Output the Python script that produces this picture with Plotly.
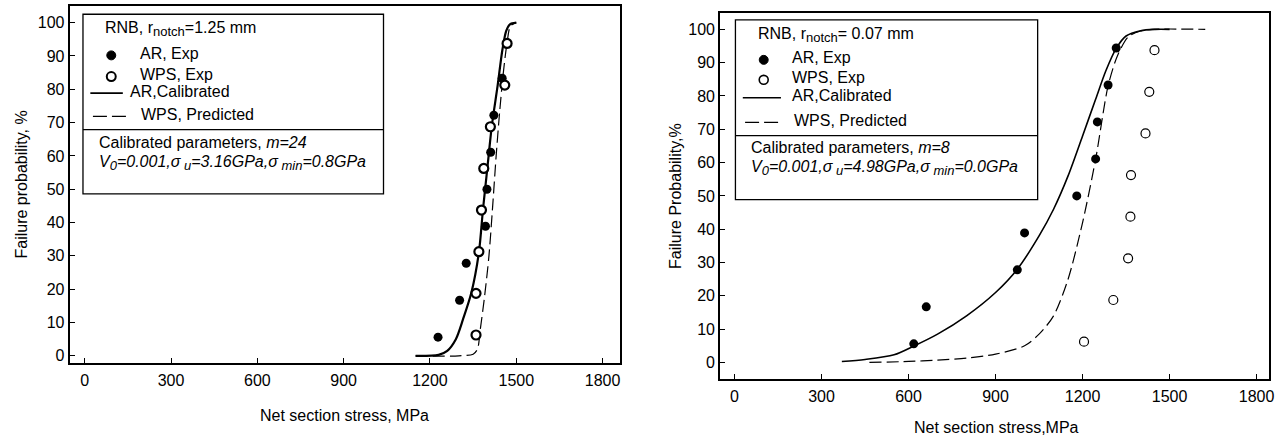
import plotly.graph_objects as go

W, H = 1286, 438
FONT = "Liberation Sans, Arial, sans-serif"

# ---------------- Left panel: RNB, r_notch = 1.25 mm ----------------
left_ar_x = [1228, 1303, 1326, 1393, 1398, 1411, 1422, 1451]
left_ar_y = [5.6, 16.7, 27.8, 38.9, 50.0, 61.1, 72.2, 83.3]
left_wps_x = [1360, 1360, 1370, 1379, 1387, 1410, 1460, 1468]
left_wps_y = [6.25, 18.75, 31.25, 43.75, 56.25, 68.75, 81.25, 93.75]
left_cal_x = [1150, 1230, 1260, 1290, 1315, 1344, 1370, 1384, 1399, 1415, 1435, 1452, 1465, 1478, 1500]
left_cal_y = [0, 0.3, 1.5, 5, 11, 19, 31, 43.7, 56, 69, 81, 92, 97.5, 99.5, 100]
left_pred_x = [1150, 1300, 1350, 1365, 1375, 1390, 1405, 1418, 1430, 1442, 1455, 1468, 1480, 1500]
left_pred_y = [0, 0, 0.5, 2, 8, 18, 30, 45, 60, 73, 85, 94, 99, 100]

# ---------------- Right panel: RNB, r_notch = 0.07 mm ----------------
right_ar_x = [618, 661, 975, 1000, 1180, 1245, 1251, 1288, 1316]
right_ar_y = [5.6, 16.7, 27.8, 38.9, 50.0, 61.1, 72.2, 83.3, 94.4]
right_wps_x = [1205, 1306, 1357, 1365, 1367, 1417, 1430, 1448]
right_wps_y = [6.25, 18.75, 31.25, 43.75, 56.25, 68.75, 81.25, 93.75]
right_cal_x = [370, 450, 550, 620, 700, 800, 900, 975, 1050, 1100, 1150, 1200, 1245, 1280, 1316, 1350, 1400, 1450, 1500]
right_cal_y = [0.3, 0.9, 2.3, 5, 8.5, 14, 21, 28, 38, 46, 56, 68, 79, 87.5, 94.3, 98, 99.6, 100, 100]
right_pred_x = [465, 600, 700, 800, 900, 1000, 1050, 1100, 1150, 1200, 1245, 1288, 1320, 1358, 1400, 1440, 1623]
right_pred_y = [0, 0.3, 0.7, 1.3, 2.5, 5, 8.5, 14, 25, 42, 61, 83, 92, 97.8, 99.5, 100, 100]

x_ticks = [0, 300, 600, 900, 1200, 1500, 1800]
y_ticks = [0, 10, 20, 30, 40, 50, 60, 70, 80, 90, 100]


def px(x):
    return x / W


def py(y):
    return 1 - y / H


fig = go.Figure()

panels = [
    dict(ax="", ar=(left_ar_x, left_ar_y), wps=(left_wps_x, left_wps_y),
         cal=(left_cal_x, left_cal_y), pred=(left_pred_x, left_pred_y), lw=2.2, ow=2.2),
    dict(ax="2", ar=(right_ar_x, right_ar_y), wps=(right_wps_x, right_wps_y),
         cal=(right_cal_x, right_cal_y), pred=(right_pred_x, right_pred_y), lw=1.6, ow=1.2),
]

for p in panels:
    xa, ya = "x" + p["ax"], "y" + p["ax"]
    fig.add_trace(go.Scatter(x=p["cal"][0], y=p["cal"][1], mode="lines", xaxis=xa, yaxis=ya,
                             line=dict(color="black", width=p["lw"], shape="spline", smoothing=0.8),
                             showlegend=False))
    fig.add_trace(go.Scatter(x=p["pred"][0], y=p["pred"][1], mode="lines", xaxis=xa, yaxis=ya,
                             line=dict(color="black", width=1.2, dash="12px,5px", shape="spline", smoothing=0.8),
                             showlegend=False))
    fig.add_trace(go.Scatter(x=p["ar"][0], y=p["ar"][1], mode="markers", xaxis=xa, yaxis=ya,
                             marker=dict(symbol="circle", size=9, color="black"),
                             showlegend=False))
    fig.add_trace(go.Scatter(x=p["wps"][0], y=p["wps"][1], mode="markers", xaxis=xa, yaxis=ya,
                             marker=dict(symbol="circle", size=9, color="white",
                                         line=dict(color="black", width=p["ow"])),
                             showlegend=False))

axis_common = dict(showline=True, mirror=True, linecolor="black", linewidth=2,
                   ticks="inside", ticklen=5, tickwidth=1, tickcolor="black",
                   showgrid=False, zeroline=False,
                   tickfont=dict(family=FONT, size=16, color="black"))

fig.update_layout(
    width=W, height=H,
    margin=dict(l=0, r=0, t=0, b=0),
    paper_bgcolor="white", plot_bgcolor="white",
    showlegend=False,
    xaxis=dict(domain=[px(70), px(622)], range=[-52, 1859], tickvals=x_ticks, anchor="y",
               ticklabelstandoff=2, **axis_common),
    yaxis=dict(domain=[py(364), py(6)], range=[-2.2, 105], tickvals=y_ticks, anchor="x", **axis_common),
    xaxis2=dict(domain=[px(723), px(1274)], range=[-49.5, 1843], tickvals=x_ticks, anchor="y2",
                ticklabelstandoff=2, **axis_common),
    yaxis2=dict(domain=[py(380), py(12.7)], range=[-5, 105], tickvals=y_ticks, anchor="x2", **axis_common),
)

ann = []
shapes = []

SUB = '<sub><span style="font-size:13px">%s</span></sub>'


def text(x, y, s, size=16, xanchor="left", angle=0):
    ann.append(dict(xref="paper", yref="paper", x=px(x), y=py(y), text=s, showarrow=False,
                    xanchor=xanchor, yanchor="middle", textangle=angle,
                    font=dict(family=FONT, size=size, color="black")))


# axis titles
text(346, 416, "Net section stress, MPa", xanchor="center")
text(1000, 428, "Net section stress,MPa", xanchor="center")
text(22, 185, "Failure probability, %", xanchor="center", angle=-90)
text(678, 196, "Failure Probability,%", xanchor="center", angle=-90)


def legend_box(b):
    shapes.append(dict(type="rect", xref="paper", yref="paper", x0=px(b["x0"]), x1=px(b["x1"]),
                       y0=py(b["y1"]), y1=py(b["y0"]), line=dict(color="black", width=1.3),
                       fillcolor="white", layer="above"))
    shapes.append(dict(type="line", xref="paper", yref="paper", x0=px(b["x0"]), x1=px(b["x1"]),
                       y0=py(b["sep"]), y1=py(b["sep"]), line=dict(color="black", width=1.3), layer="above"))
    text(b["tx"], b["ty"], b["title"])
    shapes.append(dict(type="circle", xref="paper", yref="paper",
                       x0=px(b["mx"] - 4.5), x1=px(b["mx"] + 4.5),
                       y0=py(b["m1y"] + 4.5), y1=py(b["m1y"] - 4.5),
                       fillcolor="black", line=dict(color="black", width=1), layer="above"))
    text(b["lx"], b["m1y"] - 2, "AR, Exp")
    shapes.append(dict(type="circle", xref="paper", yref="paper",
                       x0=px(b["mx"] - 4.5), x1=px(b["mx"] + 4.5),
                       y0=py(b["m2y"] + 4.5), y1=py(b["m2y"] - 4.5),
                       fillcolor="white", line=dict(color="black", width=b["ow"]), layer="above"))
    text(b["lx"], b["m2y"] - 2, "WPS, Exp")
    shapes.append(dict(type="line", xref="paper", yref="paper", x0=px(b["s_x0"]), x1=px(b["s_x1"]),
                       y0=py(b["s_y"]), y1=py(b["s_y"]), line=dict(color="black", width=1.6), layer="above"))
    text(b["s_tx"], b["s_y"] - 2, "AR,Calibrated")
    shapes.append(dict(type="line", xref="paper", yref="paper", x0=px(b["d_x0"]), x1=px(b["d_x1"]),
                       y0=py(b["d_y"]), y1=py(b["d_y"]), line=dict(color="black", width=1.2, dash="14px,5px"),
                       layer="above"))
    text(b["d_tx"], b["d_y"] - 2, "WPS, Predicted")
    text(b["px"], b["p1y"], "Calibrated parameters, <i>m=%s</i>" % b["m"])
    text(b["px"], b["p2y"], b["p2"])


legend_box(dict(x0=83.3, x1=385, y0=14.3, y1=194.3, sep=130,
                tx=103.3, ty=29, title="RNB, r" + SUB % "notch" + "=1.25 mm",
                mx=111.7, m1y=55.5, m2y=76.7, lx=138.3, ow=2,
                s_x0=90.7, s_x1=123.3, s_y=93.3, s_tx=129,
                d_x0=93.3, d_x1=128.3, d_y=116.7, d_tx=140,
                px=97.3, p1y=143.3, p2y=163.3, m="24",
                p2="<i>V" + SUB % "0" + "=0.001,σ" + SUB % " u" + "=3.16GPa,σ" + SUB % " min" + "=0.8GPa</i>"))

legend_box(dict(x0=738.3, x1=1041.7, y0=20, y1=200, sep=136,
                tx=759.3, ty=35, title="RNB, r" + SUB % "notch" + "= 0.07 mm",
                mx=766.7, m1y=60, m2y=80, lx=793.3, ow=1.6,
                s_x0=745.7, s_x1=784, s_y=98, s_tx=793.3,
                d_x0=748, d_x1=783, d_y=122.7, d_tx=795,
                px=752.3, p1y=148.3, p2y=168, m="8",
                p2="<i>V" + SUB % "0" + "=0.001,σ" + SUB % " u" + "=4.98GPa,σ" + SUB % " min" + "=0.0GPa</i>"))

fig.update_layout(annotations=ann, shapes=shapes)
fig.write_html("out.html", config=dict(displayModeBar=False),
               post_script="document.body.style.margin='0';document.body.style.overflow='hidden';")
